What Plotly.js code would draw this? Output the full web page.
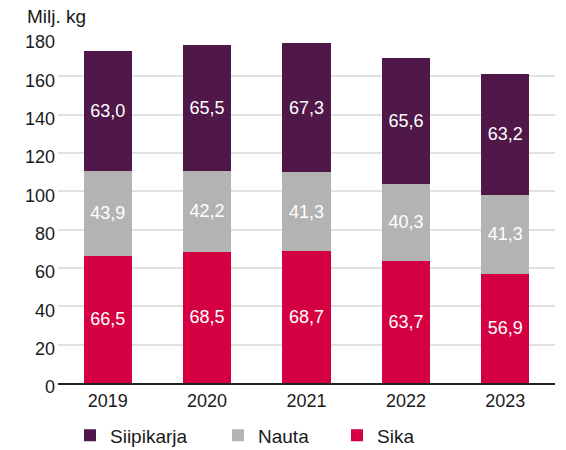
<!DOCTYPE html>
<html><head><meta charset="utf-8">
<script src="https://cdn.plot.ly/plotly-3.0.1.min.js"></script>
<style>body{margin:0;padding:0;}#chart{width:566px;height:450px;}</style>
</head><body><div id="chart"></div>
<script>
const years = ['2019','2020','2021','2022','2023'];
const sika = [66.5, 68.5, 68.7, 63.7, 56.9];
const nauta = [43.9, 42.2, 41.3, 40.3, 41.3];
const siipikarja = [63.0, 65.5, 67.3, 65.6, 63.2];
const yTicks = [0,20,40,60,80,100,120,140,160,180];

const FONT = 'Liberation Sans, Arial, sans-serif';
function tr(name, vals, color, leg){
  return {type:'bar', name:name, x:years, y:vals, marker:{color:color},
    legend:leg,
    texttemplate:'%{y:.1f}', textposition:'inside', insidetextanchor:'middle',
    textfont:{color:'#ffffff', size:18, family:FONT},
    hoverinfo:'skip'};
}
const data = [
  tr('Sika', sika, '#d50042', 'legend3'),
  tr('Nauta', nauta, '#b3b3b3', 'legend2'),
  tr('Siipikarja', siipikarja, '#4f1848', 'legend')
];
function leg(xpx){
  return {orientation:'h', xref:'container', yref:'container', x:xpx/566, xanchor:'left',
    y:(450-435.5)/450, yanchor:'middle', font:{size:19, family:FONT, color:'#1a1a1a'},
    bgcolor:'rgba(0,0,0,0)'};
}
const layout = {
  width:566, height:450, barmode:'stack', bargap:0.517,
  separators:',.',
  margin:{l:58, r:11, t:38, b:67},
  paper_bgcolor:'#ffffff', plot_bgcolor:'#ffffff',
  font:{family:FONT, size:18, color:'#1a1a1a'},
  xaxis:{type:'category', showgrid:false, showline:true, linecolor:'#222222', linewidth:2,
    ticks:'', tickfont:{size:18}, automargin:false},
  yaxis:{range:[0,180], tickvals:yTicks, showgrid:true, gridcolor:'#e1e1e1', gridwidth:2,
    zeroline:false, showline:false, ticks:'', tickfont:{size:18}, automargin:false,
    ticklabelstandoff:2, ticklabelshift:4},
  showlegend:true,
  legend:leg(70),
  legend2:leg(218),
  legend3:leg(337),
  annotations:[{text:'Milj. kg', xref:'paper', yref:'paper', x:(25-58)/497, y:1+(38-16)/345,
    xanchor:'left', yanchor:'middle', showarrow:false, font:{size:19, family:FONT, color:'#1a1a1a'}}]
};
Plotly.newPlot('chart', data, layout, {staticPlot:true, displayModeBar:false});
</script></body></html>
